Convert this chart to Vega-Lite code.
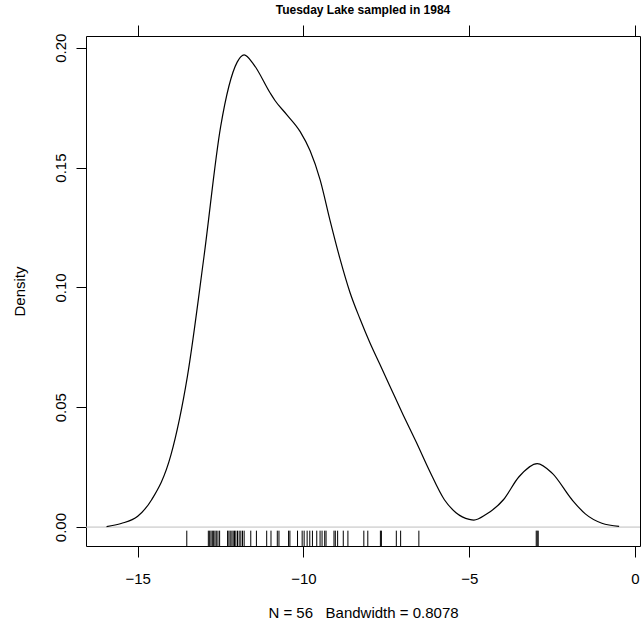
{
  "$schema": "https://vega.github.io/schema/vega-lite/v6.json",
  "width": 554,
  "height": 510,
  "autosize": "none",
  "padding": {"left": 86, "top": 36, "right": 1, "bottom": 78},
  "background": "white",
  "config": {
    "font": "Liberation Sans",
    "view": {"stroke": "black", "strokeWidth": 1},
    "axis": {
      "domain": false,
      "grid": false,
      "tickColor": "black",
      "tickWidth": 1,
      "labelColor": "black",
      "titleColor": "black",
      "labelFontSize": 15,
      "titleFontSize": 15,
      "titleFontWeight": "normal",
      "labelFlush": false,
      "labelOverlap": false
    }
  },
  "title": {
    "text": "Tuesday Lake sampled in 1984",
    "fontSize": 12,
    "fontWeight": "bold",
    "font": "Liberation Sans",
    "anchor": "middle",
    "color": "black",
    "offset": 8
  },
  "datasets": {
    "curve": [
      {"v": -15.94, "d": 0.0002},
      {"v": -15.5, "d": 0.0015},
      {"v": -15.0, "d": 0.0045},
      {"v": -14.58, "d": 0.0114},
      {"v": -14.0, "d": 0.03},
      {"v": -13.5, "d": 0.063},
      {"v": -13.0, "d": 0.113},
      {"v": -12.5, "d": 0.167},
      {"v": -12.0, "d": 0.194},
      {"v": -11.79, "d": 0.197},
      {"v": -11.5, "d": 0.193},
      {"v": -11.0, "d": 0.181},
      {"v": -10.86, "d": 0.178},
      {"v": -10.5, "d": 0.172},
      {"v": -10.1, "d": 0.165},
      {"v": -9.8, "d": 0.157},
      {"v": -9.5, "d": 0.145},
      {"v": -9.2, "d": 0.128},
      {"v": -8.9, "d": 0.112},
      {"v": -8.6, "d": 0.098},
      {"v": -8.3, "d": 0.087},
      {"v": -8.0, "d": 0.077},
      {"v": -7.7, "d": 0.068},
      {"v": -7.4, "d": 0.059},
      {"v": -7.0, "d": 0.047},
      {"v": -6.6, "d": 0.0355},
      {"v": -6.2, "d": 0.0235},
      {"v": -5.75, "d": 0.0114},
      {"v": -5.4, "d": 0.006},
      {"v": -5.0, "d": 0.0032},
      {"v": -4.86, "d": 0.0029},
      {"v": -4.5, "d": 0.0052},
      {"v": -3.97, "d": 0.0114},
      {"v": -3.5, "d": 0.021},
      {"v": -2.95, "d": 0.0265},
      {"v": -2.5, "d": 0.0225},
      {"v": -1.9, "d": 0.0114},
      {"v": -1.5, "d": 0.0055},
      {"v": -1.0, "d": 0.0016},
      {"v": -0.48, "d": 0.0003}
    ],
    "rug": [
      {"x": -13.52},
      {"x": -12.87}, {"x": -12.83}, {"x": -12.79}, {"x": -12.75}, {"x": -12.71}, {"x": -12.67}, {"x": -12.63}, {"x": -12.58}, {"x": -12.53},
      {"x": -12.29}, {"x": -12.25}, {"x": -12.21}, {"x": -12.16}, {"x": -12.12}, {"x": -12.08}, {"x": -12.04}, {"x": -11.99}, {"x": -11.94}, {"x": -11.89}, {"x": -11.84}, {"x": -11.79},
      {"x": -11.59}, {"x": -11.42}, {"x": -11.11}, {"x": -10.98}, {"x": -10.79}, {"x": -10.74}, {"x": -10.45}, {"x": -10.41}, {"x": -10.18}, {"x": -10.04}, {"x": -9.98},
      {"x": -9.89}, {"x": -9.81}, {"x": -9.73},
      {"x": -9.6}, {"x": -9.5}, {"x": -9.44}, {"x": -9.36}, {"x": -9.32},
      {"x": -9.08}, {"x": -9.04}, {"x": -8.97}, {"x": -8.8}, {"x": -8.66},
      {"x": -8.18}, {"x": -8.06}, {"x": -7.68}, {"x": -7.65}, {"x": -7.2}, {"x": -7.07}, {"x": -6.52},
      {"x": -2.98}, {"x": -2.95}, {"x": -2.92}
    ],
    "zero": [{"level": 0}]
  },
  "layer": [
    {
      "data": {"name": "zero"},
      "mark": {"type": "rule", "color": "#bebebe", "strokeWidth": 1},
      "encoding": {
        "y": {
          "field": "level", "type": "quantitative",
          "scale": {"domain": [-0.0079, 0.2049], "nice": false, "zero": false},
          "axis": {
            "values": [0, 0.05, 0.1, 0.15, 0.2],
            "format": ".2f",
            "labelAngle": 270,
            "tickSize": 10,
            "labelPadding": 8,
            "title": "Density",
            "titlePadding": 26
          }
        }
      }
    },
    {
      "data": {"name": "rug"},
      "mark": {"type": "rule", "color": "black", "strokeWidth": 1},
      "encoding": {
        "x": {
          "field": "x", "type": "quantitative",
          "scale": {"domain": [-16.56, 0.15], "nice": false, "zero": false},
          "axis": {
            "orient": "bottom",
            "values": [-15, -10, -5, 0],
            "format": "d",
            "tickSize": 11,
            "labelPadding": 14,
            "title": "N = 56\u00a0\u00a0 Bandwidth = 0.8078",
            "titlePadding": 19
          }
        },
        "y": {"datum": -0.0015, "type": "quantitative"},
        "y2": {"datum": -0.0079}
      }
    },
    {
      "data": {"name": "curve"},
      "mark": {"type": "line", "color": "black", "strokeWidth": 1.2, "interpolate": "monotone"},
      "encoding": {
        "x": {
          "field": "v", "type": "quantitative",
          "axis": {"orient": "top", "values": [-15, -10, -5, 0], "labels": false, "tickSize": 11, "title": null}
        },
        "y": {"field": "d", "type": "quantitative"}
      }
    }
  ],
  "resolve": {"axis": {"x": "independent"}}
}
